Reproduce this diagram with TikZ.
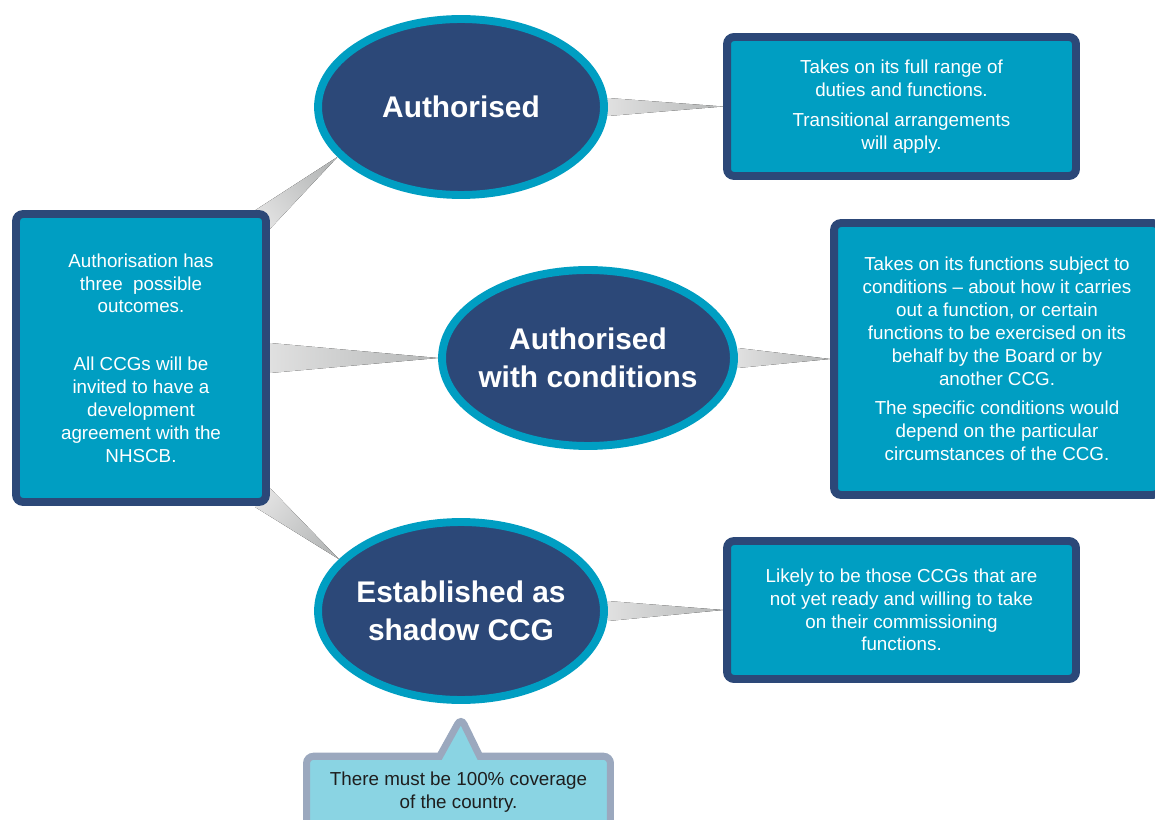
\documentclass[tikz,border=0pt]{standalone}
\usepackage{fontspec}
\setmainfont{Liberation Sans}
\usepackage{xcolor}
\usetikzlibrary{positioning, shapes.geometric, shapes.callouts,
                backgrounds, calc}
\definecolor{ccgteal}{RGB}{0, 158, 194}
\definecolor{ccgnavy}{RGB}{44, 72, 120}
\definecolor{ccgpale}{RGB}{138, 212, 227}
\definecolor{ccggrey}{RGB}{155, 168, 190}
\definecolor{ccgtext}{RGB}{30, 30, 30}
\definecolor{wedgelight}{RGB}{224, 224, 224}
\definecolor{wedgedark}{RGB}{182, 184, 184}

\begin{document}
\begin{tikzpicture}[
    x=0.02cm, y=-0.02cm,
    infobox/.style={draw=ccgnavy, line width=4.5pt, rounded corners=4pt,
                    fill=ccgteal, text=white, align=center, inner sep=0pt,
                    font=\fontsize{10.7}{13}\selectfont},
    outcome/.style={ellipse, draw=ccgteal, line width=4.5pt, fill=ccgnavy,
                    text=white, align=center, inner sep=0pt,
                    minimum width=5.72cm, minimum height=3.52cm,
                    font=\fontsize{17}{21.5}\selectfont\bfseries},
    notebox/.style={rectangle callout, draw=ccggrey, line width=4pt,
                    rounded corners=4pt, fill=ccgpale, text=ccgtext,
                    align=center, inner sep=0pt, callout pointer width=0.8cm,
                    font=\fontsize{10.7}{13}\selectfont},
    wedge/.style={bottom color=wedgelight, top color=wedgedark,
                  shading angle=#1},
  ]
    \clip[use as bounding box] (0,0) rectangle (1155,820);

    % Starting point
    \node[infobox, minimum width=5cm, minimum height=5.76cm] (lbox) at (141,358)
      {Authorisation has\\three~ possible\\outcomes.\\[20pt]
       All CCGs will be\\invited to have a\\development\\agreement with the\\NHSCB.};

    % Three outcomes
    \node[outcome] (auth) at (461,107) {Authorised};
    \node[outcome, minimum width=5.84cm, inner xsep=-4.5pt] (cond) at (588,358)
      {Authorised\\with conditions};
    \node[outcome, minimum height=3.56cm, inner xsep=-3pt] (shadow) at (461,611)
      {Established as\\shadow CCG};

    % What each outcome means
    \node[infobox, minimum width=6.98cm, minimum height=2.78cm] (box1) at (901.5,106.5)
      {Takes on its full range of\\duties and functions.\\[4pt]
       Transitional arrangements\\will apply.};
    \node[infobox, minimum width=6.52cm, minimum height=5.44cm] (box2) at (997,359)
      {Takes on its functions subject to\\conditions -- about how it carries\\
       out a function, or certain\\functions to be exercised on its\\
       behalf by the Board or by\\another CCG.\\[4pt]
       The specific conditions would\\depend on the particular\\
       circumstances of the CCG.};
    \node[infobox, minimum width=6.98cm, minimum height=2.76cm] (box3) at (901.5,610)
      {Likely to be those CCGs that are\\not yet ready and willing to take\\
       on their commissioning\\functions.};

    % Coverage note
    \node[notebox, minimum width=6.08cm, minimum height=1.43cm,
          callout absolute pointer={($(shadow.south)+(0,-2.8mm)$)}] (cover)
      at (458.5,792) {There must be 100\% coverage\\of the country.};

    % Tapered connectors
    \coordinate (w1base) at ($(lbox.north east)+(-1.6mm,-2mm)$);
    \coordinate (w3base) at ($(lbox.south east)+(-1.4mm,1.6mm)$);
    \begin{scope}[on background layer]
      \fill[wedge=-50] ($(w1base)!2.4mm!90:(auth.202)$) -- (auth.202)
        -- ($(w1base)!2.4mm!-90:(auth.202)$) -- cycle;
      \fill[wedge=-90] ($(lbox.east)!3mm!90:(cond.west)$) -- (cond.west)
        -- ($(lbox.east)!3mm!-90:(cond.west)$) -- cycle;
      \fill[wedge=-130] ($(w3base)!2.4mm!90:(shadow.157)$) -- (shadow.157)
        -- ($(w3base)!2.4mm!-90:(shadow.157)$) -- cycle;
      \fill[wedge=-90] ($(auth.east)!1.8mm!90:(box1.west)$) -- (box1.west)
        -- ($(auth.east)!1.8mm!-90:(box1.west)$) -- cycle;
      \fill[wedge=-90] ($(cond.east)!2mm!90:(box2.west)$) -- (box2.west)
        -- ($(cond.east)!2mm!-90:(box2.west)$) -- cycle;
      \fill[wedge=-90] ($(shadow.east)!2mm!90:(box3.west)$) -- (box3.west)
        -- ($(shadow.east)!2mm!-90:(box3.west)$) -- cycle;
    \end{scope}
  \end{tikzpicture}
\end{document}
